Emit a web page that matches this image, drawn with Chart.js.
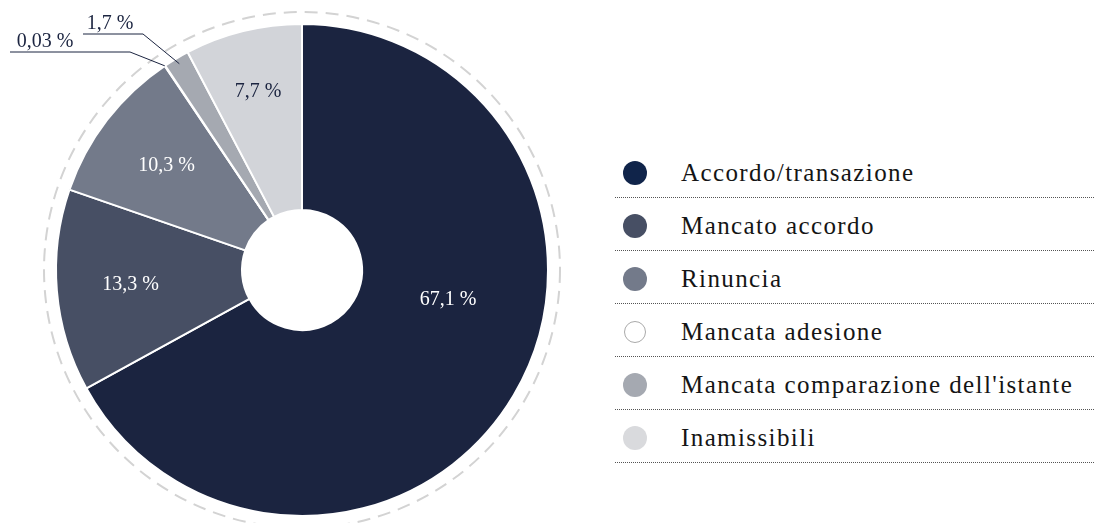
<!DOCTYPE html>
<html>
<head>
<meta charset="utf-8">
<script src="https://cdn.jsdelivr.net/npm/chart.js@4.4.0/dist/chart.umd.min.js"></script>
<style>
  html, body { margin: 0; padding: 0; background: #fff; }
  body { width: 1094px; height: 523px; position: relative; overflow: hidden; font-family: "Liberation Serif", serif; }
  #wrap { position: absolute; left: 0; top: 0; width: 604px; height: 523px; }
  #legend { position: absolute; left: 615px; top: 145px; width: 479px; }
  .row { border-bottom: 1px dotted #555; display: flex; align-items: center; box-sizing: content-box; padding-top: 4px; height: 48px; }
  .dot { width: 24px; height: 24px; border-radius: 50%; margin-left: 8px; margin-right: 34px; box-sizing: border-box; }
  .txt { font-size: 25px; letter-spacing: 1.4px; color: #151515; }
</style>
</head>
<body>
<div id="wrap"><canvas id="js--pie"></canvas></div>
<div id="legend"></div>
<script>
// data
const categories = [
  'Accordo/transazione',
  'Mancato accordo',
  'Rinuncia',
  'Mancata adesione',
  "Mancata comparazione dell'istante",
  'Inamissibili'
];
const shares = [67.1, 13.3, 10.3, 0.03, 1.7, 7.7];
const shareLabels = ['67,1 %', '13,3 %', '10,3 %', '0,03 %', '1,7 %', '7,7 %'];

const sliceColors = ['#1b2440', '#474f64', '#737a8a', '#ffffff', '#a5a9b1', '#d2d4d9'];
const legendColors = ['#10244a', '#474f64', '#737a8a', '#ffffff', '#a5a9b1', '#d9dadd'];

// legend (html)
const legend = document.getElementById('legend');
categories.forEach(function(name, i){
  const row = document.createElement('div');
  row.className = 'row';
  const dot = document.createElement('div');
  dot.className = 'dot';
  dot.style.background = legendColors[i];
  if (i === 3) {
    dot.style.border = '1.5px solid #aaa';
    dot.style.width = '22px';
    dot.style.height = '22px';
    dot.style.marginLeft = '9px';
    dot.style.marginRight = '35px';
  }
  const txt = document.createElement('div');
  txt.className = 'txt';
  txt.textContent = name;
  row.appendChild(dot);
  row.appendChild(txt);
  legend.appendChild(row);
});

// labels inside / outside the slices
// inside: radius from center, angle (deg from top, clockwise) or null = middle of slice
const inside = [
  { i: 0, r: 149, a: 101.6, color: '#ffffff' },
  { i: 1, r: 172, a: null, color: '#ffffff' },
  { i: 2, r: 171, a: null, color: '#ffffff' },
  { i: 5, r: 184, a: null, color: '#1b2440' }
];
// outside: where the leader hits the slice, elbow point, end of underline, text centre
const outside = [
  { i: 3, at: 'start', r: 246, elbow: [130, 52], end: [10, 52], text: [45, 42] },
  { i: 4, at: 'mid', r: 240, elbow: [143, 34], end: [83, 34], text: [110, 24] }
];

const labelPlugin = {
  id: 'labels',
  beforeDatasetsDraw(chart) {
    const arc = chart.getDatasetMeta(0).data[0];
    const ctx = chart.ctx;
    ctx.save();
    ctx.strokeStyle = '#d3d3d3';
    ctx.lineWidth = 2;
    ctx.setLineDash([13, 8]);
    ctx.beginPath();
    ctx.arc(arc.x, arc.y, arc.outerRadius + 12, 0, Math.PI * 2);
    ctx.stroke();
    ctx.restore();
  },
  afterDatasetsDraw(chart) {
    const meta = chart.getDatasetMeta(0);
    const ctx = chart.ctx;
    const cx = meta.data[0].x, cy = meta.data[0].y;
    ctx.save();
    ctx.font = '20px "Liberation Serif", serif';
    ctx.textAlign = 'center';
    ctx.textBaseline = 'middle';
    inside.forEach(function(l){
      const el = meta.data[l.i];
      let ang = (el.startAngle + el.endAngle) / 2;
      if (l.a !== null) ang = l.a * Math.PI / 180 - Math.PI / 2;
      ctx.fillStyle = l.color;
      ctx.fillText(shareLabels[l.i], cx + l.r * Math.cos(ang), cy + l.r * Math.sin(ang));
    });
    outside.forEach(function(l){
      const el = meta.data[l.i];
      const ang = l.at === 'start' ? el.startAngle : (el.startAngle + el.endAngle) / 2;
      const px = cx + l.r * Math.cos(ang), py = cy + l.r * Math.sin(ang);
      ctx.strokeStyle = '#1b2440';
      ctx.lineWidth = 1;
      ctx.beginPath();
      ctx.moveTo(px, py);
      ctx.lineTo(l.elbow[0], l.elbow[1]);
      ctx.lineTo(l.end[0], l.end[1]);
      ctx.stroke();
      ctx.fillStyle = '#1b2440';
      ctx.fillText(shareLabels[l.i], l.text[0], l.text[1]);
    });
    ctx.restore();
  }
};

const pieChart = new Chart(document.getElementById('js--pie'), {
  type: 'doughnut',
  data: {
    labels: categories,
    datasets: [{
      data: shares,
      backgroundColor: sliceColors,
      borderColor: '#ffffff',
      borderWidth: 2,
      hoverOffset: 0
    }]
  },
  options: {
    responsive: true,
    maintainAspectRatio: false,
    animation: false,
    radius: 246,
    cutout: '24.4%',
    layout: { padding: { top: 17, bottom: 0 } },
    plugins: {
      legend: { display: false },
      tooltip: { enabled: false }
    }
  },
  plugins: [labelPlugin]
});
</script>
</body>
</html>
